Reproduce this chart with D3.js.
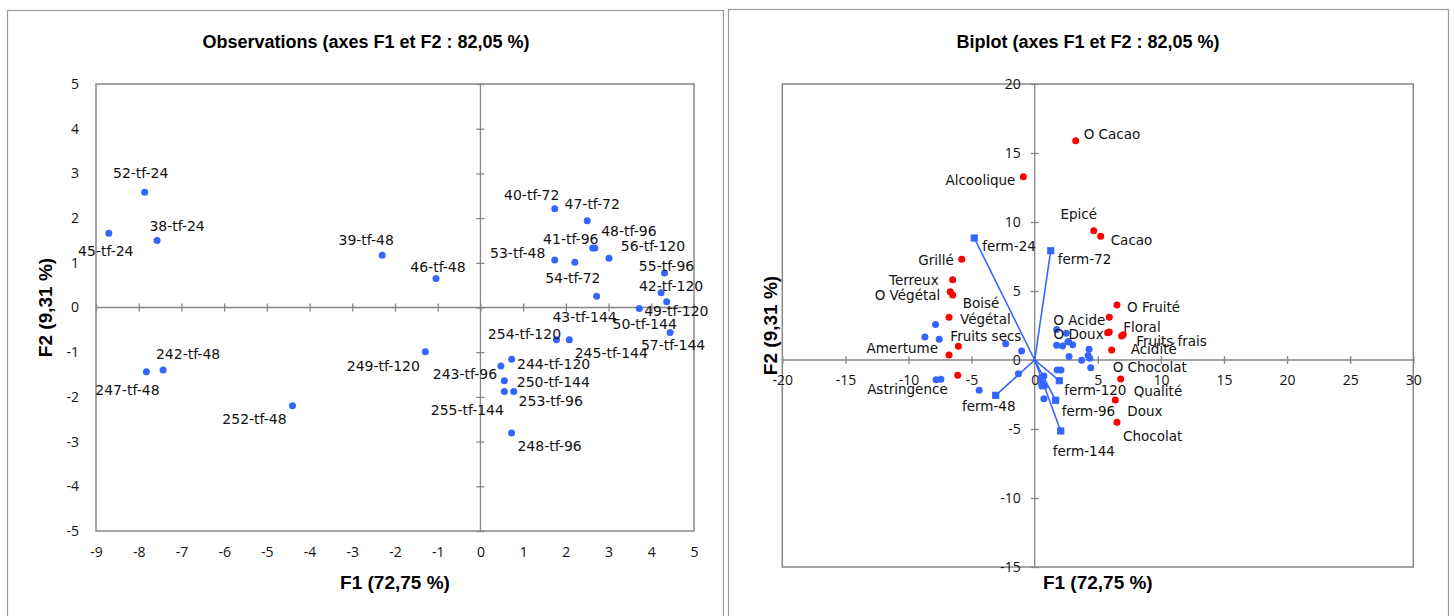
<!DOCTYPE html>
<html>
<head>
<meta charset="utf-8">
<script src="https://cdn.jsdelivr.net/npm/d3@7"></script>
<style>
  html, body { margin: 0; padding: 0; background: #fff; }
  svg { display: block; }
</style>
</head>
<body>
<svg id="chart" width="1454" height="616"></svg>
<script>
// ---------------- DATA ----------------
const obsNames = ["52-tf-24","45-tf-24","38-tf-24","39-tf-48","46-tf-48","247-tf-48","242-tf-48","252-tf-48","249-tf-120",
  "40-tf-72","47-tf-72","41-tf-96","48-tf-96","53-tf-48","54-tf-72","56-tf-120","55-tf-96","42-tf-120","43-tf-144",
  "49-tf-120","50-tf-144","57-tf-144","254-tf-120","245-tf-144","244-tf-120","243-tf-96","250-tf-144","253-tf-96",
  "255-tf-144","248-tf-96"];
const obsF1 = [-7.86,-8.70,-7.57,-2.30,-1.04,-7.82,-7.43,-4.40,-1.29,
  1.74,2.50,2.63,2.68,1.74,2.21,3.01,4.31,4.23,2.72,
  3.72,4.36,4.44,1.78,2.08,0.73,0.48,0.56,0.78,
  0.56,0.73];
const obsF2 = [2.58,1.66,1.50,1.17,0.65,-1.44,-1.40,-2.20,-0.99,
  2.21,1.94,1.33,1.33,1.06,1.01,1.10,0.77,0.33,0.25,
  -0.02,0.13,-0.56,-0.72,-0.72,-1.16,-1.31,-1.64,-1.88,
  -1.88,-2.81];

const varNames = ["O Cacao","Alcoolique","Epicé","Cacao","Grillé","Terreux","O Végétal","Boisé","Végétal","Fruits secs",
  "Amertume","Astringence","O Fruité","O Acide","O Doux","Floral","Fruits frais","Acidité","O Chocolat","Qualité","Doux","Chocolat"];
const varF1 = [3.25,-0.90,4.68,5.23,-5.78,-6.50,-6.69,-6.50,-6.79,-6.05,
  -6.79,-6.10,6.52,5.91,5.78,5.91,7.02,6.89,6.10,6.81,6.39,6.52];
const varF2 = [15.89,13.28,9.37,8.96,7.30,5.82,4.95,4.71,3.09,0.99,
  0.36,-1.11,3.99,3.09,1.98,2.03,1.83,1.74,0.72,-1.38,-2.90,-4.51];

const fermNames = ["ferm-24","ferm-48","ferm-72","ferm-96","ferm-120","ferm-144"];
const fermF1 = [-4.79,-3.09,1.27,1.66,1.95,2.06];
const fermF2 = [8.84,-2.56,7.92,-2.92,-1.50,-5.14];

const obsXTicks = [-9,-8,-7,-6,-5,-4,-3,-2,-1,0,1,2,3,4,5];
const obsYTicks = [-5,-4,-3,-2,-1,0,1,2,3,4,5];
const biXTicks = [-20,-15,-10,-5,0,5,10,15,20,25,30];
const biYTicks = [-15,-10,-5,0,5,10,15,20];

const titleObs = "Observations (axes F1 et F2 : 82,05 %)";
const titleBi = "Biplot (axes F1 et F2 : 82,05 %)";
const xTitle = "F1 (72,75 %)";
const yTitle = "F2 (9,31 %)";

// ---------------- LAYOUT (label placement, pixels) ----------------
const obsLabelPos = {
  "52-tf-24":[-4,-19],"45-tf-24":[-3,18],"38-tf-24":[20,-14],"39-tf-48":[-16,-15],"46-tf-48":[2,-11],
  "247-tf-48":[-19,18],"242-tf-48":[25,-16],"252-tf-48":[-38,13],"249-tf-120":[-42,14],
  "40-tf-72":[-23,-14],"47-tf-72":[5,-17],"41-tf-96":[-22,-9],"48-tf-96":[34,-17],"53-tf-48":[-37,-7],
  "54-tf-72":[-2,16],"56-tf-120":[44,-12],"55-tf-96":[2,-7],"42-tf-120":[10,-7],"43-tf-144":[-12,21],
  "49-tf-120":[37,3],"50-tf-144":[-22,22],"57-tf-144":[3,12],"254-tf-120":[-32,-6],"245-tf-144":[42,13],
  "244-tf-120":[42,5],"243-tf-96":[-36,8],"250-tf-144":[49,1],"253-tf-96":[37,9],"255-tf-144":[-37,18],
  "248-tf-96":[38,13]
};
const varLabelPos = {
  "O Cacao":["start",8,-7],"Alcoolique":["end",-8,3],"Epicé":["middle",-15,-17],"Cacao":["start",10,4],
  "Grillé":["end",-8,1],"Terreux":["end",-14,0],"O Végétal":["end",-10,3],"Boisé":["start",10,8],
  "Végétal":["start",11,2],"Fruits secs":["start",-8,-10],"Amertume":["end",-11,-7],"Astringence":["end",-10,14],
  "O Fruité":["start",10,2],"O Acide":["end",-4,3],"O Doux":["end",-4,1],"Floral":["start",14,-5],
  "Fruits frais":["start",13,6],"Acidité":["start",9,13],"O Chocolat":["start",1,17],"Qualité":["start",13,12],
  "Doux":["start",12,11],"Chocolat":["start",6,14]
};
const fermLabelPos = {
  "ferm-24":["start",8,8],"ferm-48":["middle",-7,11],"ferm-72":["start",7,8],
  "ferm-96":["start",6,11],"ferm-120":["start",5,9],"ferm-144":["start",-8,20]
};

const BLUE = "#3366ff", RED = "#ff0000", GREY = "#878787";
const tickFont = "'Open Sans', 'Liberation Sans', sans-serif";
const labelFont = "'DejaVu Sans', sans-serif";
const boldFont = "'Liberation Sans', Arial, sans-serif";

const svg = d3.select("#chart");

// panel frames
svg.append("rect").attr("x", 7.5).attr("y", 10.5).attr("width", 716).attr("height", 640)
  .attr("fill", "none").attr("stroke", "#9a9a9a").attr("stroke-width", 1.2);
svg.append("rect").attr("x", 728.5).attr("y", 9.5).attr("width", 720).attr("height", 640)
  .attr("fill", "none").attr("stroke", "#9a9a9a").attr("stroke-width", 1.2);

function crossTicks(g, x, y, xt, yt, len) {
  const gx = g.append("g").attr("transform", `translate(0,${y(0) - len})`)
    .call(d3.axisBottom(x).tickValues(xt).tickSize(len * 2).tickFormat(""));
  gx.select(".domain").remove();
  gx.selectAll(".tick line").attr("stroke", GREY).attr("stroke-width", 1.3);
  const gy = g.append("g").attr("transform", `translate(${x(0) + len},0)`)
    .call(d3.axisLeft(y).tickValues(yt).tickSize(len * 2).tickFormat(""));
  gy.select(".domain").remove();
  gy.selectAll(".tick line").attr("stroke", GREY).attr("stroke-width", 1.3);
}

function styleTickText(sel) {
  sel.select(".domain").remove();
  sel.selectAll(".tick line").remove();
  sel.selectAll(".tick text").attr("font-family", tickFont).attr("font-size", 14).attr("fill", "#111")
    .text(d => String(d));
}

// ================= LEFT: Observations =================
{
  const x = d3.scaleLinear().domain([-9, 5]).range([96, 694]);
  const y = d3.scaleLinear().domain([-5, 5]).range([531, 84]);
  const g = svg.append("g");

  g.append("text").attr("x", 366).attr("y", 48).attr("text-anchor", "middle")
    .attr("font-family", boldFont).attr("font-weight", "bold").attr("font-size", 18).text(titleObs);

  g.append("rect").attr("x", x(-9)).attr("y", y(5)).attr("width", x(5) - x(-9)).attr("height", y(-5) - y(5))
    .attr("fill", "none").attr("stroke", GREY).attr("stroke-width", 1.5);
  g.append("line").attr("x1", x(-9)).attr("x2", x(5)).attr("y1", y(0)).attr("y2", y(0)).attr("stroke", GREY).attr("stroke-width", 1.3);
  g.append("line").attr("x1", x(0)).attr("x2", x(0)).attr("y1", y(5)).attr("y2", y(-5)).attr("stroke", GREY).attr("stroke-width", 1.3);
  crossTicks(g, x, y, obsXTicks, obsYTicks, 4);

  const ax = g.append("g").attr("transform", `translate(0,${y(-5)})`)
    .call(d3.axisBottom(x).tickValues(obsXTicks).tickSize(0).tickPadding(16));
  styleTickText(ax);
  const ay = g.append("g").attr("transform", `translate(${x(-9)},0)`)
    .call(d3.axisLeft(y).tickValues(obsYTicks).tickSize(0).tickPadding(17));
  styleTickText(ay);

  g.append("text").attr("x", (x(-9) + x(5)) / 2).attr("y", 589).attr("text-anchor", "middle")
    .attr("font-family", boldFont).attr("font-weight", "bold").attr("font-size", 19).text(xTitle);
  g.append("text").attr("transform", `translate(52,${(y(5) + y(-5)) / 2}) rotate(-90)`).attr("text-anchor", "middle")
    .attr("font-family", boldFont).attr("font-weight", "bold").attr("font-size", 19).text(yTitle);

  const obs = obsNames.map((n, i) => ({ n, f1: obsF1[i], f2: obsF2[i] }));
  g.append("g").selectAll("circle").data(obs).join("circle")
    .attr("cx", d => x(d.f1)).attr("cy", d => y(d.f2)).attr("r", 3.5).attr("fill", BLUE);
  g.append("g").selectAll("text").data(obs).join("text")
    .attr("x", d => x(d.f1) + obsLabelPos[d.n][0]).attr("y", d => y(d.f2) + obsLabelPos[d.n][1])
    .attr("text-anchor", "middle").attr("dominant-baseline", "central")
    .attr("font-family", labelFont).attr("font-size", 14).attr("fill", "#111").text(d => d.n);
}

// ================= RIGHT: Biplot =================
{
  const x = d3.scaleLinear().domain([-20, 30]).range([782.3, 1413.3]);
  const y = d3.scaleLinear().domain([-15, 20]).range([567, 84]);
  const g = svg.append("g");

  g.append("text").attr("x", 1088).attr("y", 48).attr("text-anchor", "middle")
    .attr("font-family", boldFont).attr("font-weight", "bold").attr("font-size", 18).text(titleBi);

  g.append("rect").attr("x", x(-20)).attr("y", y(20)).attr("width", x(30) - x(-20)).attr("height", y(-15) - y(20))
    .attr("fill", "none").attr("stroke", GREY).attr("stroke-width", 1.5);
  g.append("line").attr("x1", x(-20)).attr("x2", x(30)).attr("y1", y(0)).attr("y2", y(0)).attr("stroke", GREY).attr("stroke-width", 1.3);
  g.append("line").attr("x1", x(0)).attr("x2", x(0)).attr("y1", y(20)).attr("y2", y(-15)).attr("stroke", GREY).attr("stroke-width", 1.3);
  crossTicks(g, x, y, biXTicks, biYTicks, 4);

  const ax = g.append("g").attr("transform", `translate(0,${y(0)})`)
    .call(d3.axisBottom(x).tickValues(biXTicks).tickSize(0).tickPadding(15));
  styleTickText(ax);
  const ay = g.append("g").attr("transform", `translate(${x(0)},0)`)
    .call(d3.axisLeft(y).tickValues(biYTicks).tickSize(0).tickPadding(14));
  styleTickText(ay);

  g.append("text").attr("x", (x(-20) + x(30)) / 2).attr("y", 589).attr("text-anchor", "middle")
    .attr("font-family", boldFont).attr("font-weight", "bold").attr("font-size", 19).text(xTitle);
  g.append("text").attr("transform", `translate(777,${(y(20) + y(-15)) / 2}) rotate(-90)`).attr("text-anchor", "middle")
    .attr("font-family", boldFont).attr("font-weight", "bold").attr("font-size", 19).text(yTitle);

  const obs = obsNames.map((n, i) => ({ n, f1: obsF1[i], f2: obsF2[i] }));
  g.append("g").selectAll("circle").data(obs).join("circle")
    .attr("cx", d => x(d.f1)).attr("cy", d => y(d.f2)).attr("r", 3.5).attr("fill", BLUE);

  const ferm = fermNames.map((n, i) => ({ n, f1: fermF1[i], f2: fermF2[i] }));
  g.append("g").selectAll("line").data(ferm).join("line")
    .attr("x1", x(0)).attr("y1", y(0)).attr("x2", d => x(d.f1)).attr("y2", d => y(d.f2))
    .attr("stroke", BLUE).attr("stroke-width", 1.6);
  g.append("g").selectAll("rect").data(ferm).join("rect")
    .attr("x", d => x(d.f1) - 3.6).attr("y", d => y(d.f2) - 3.6).attr("width", 7.2).attr("height", 7.2).attr("fill", BLUE);
  g.append("g").selectAll("text").data(ferm).join("text")
    .attr("x", d => x(d.f1) + fermLabelPos[d.n][1]).attr("y", d => y(d.f2) + fermLabelPos[d.n][2])
    .attr("text-anchor", d => fermLabelPos[d.n][0]).attr("dominant-baseline", "central")
    .attr("font-family", labelFont).attr("font-size", 13.5).attr("fill", "#111").text(d => d.n);

  const vars = varNames.map((n, i) => ({ n, f1: varF1[i], f2: varF2[i] }));
  g.append("g").selectAll("circle").data(vars).join("circle")
    .attr("cx", d => x(d.f1)).attr("cy", d => y(d.f2)).attr("r", 3.5).attr("fill", RED);
  g.append("g").selectAll("text").data(vars).join("text")
    .attr("x", d => x(d.f1) + varLabelPos[d.n][1]).attr("y", d => y(d.f2) + varLabelPos[d.n][2])
    .attr("text-anchor", d => varLabelPos[d.n][0]).attr("dominant-baseline", "central")
    .attr("font-family", labelFont).attr("font-size", 13.5).attr("fill", "#111").text(d => d.n);
}
</script>
</body>
</html>
